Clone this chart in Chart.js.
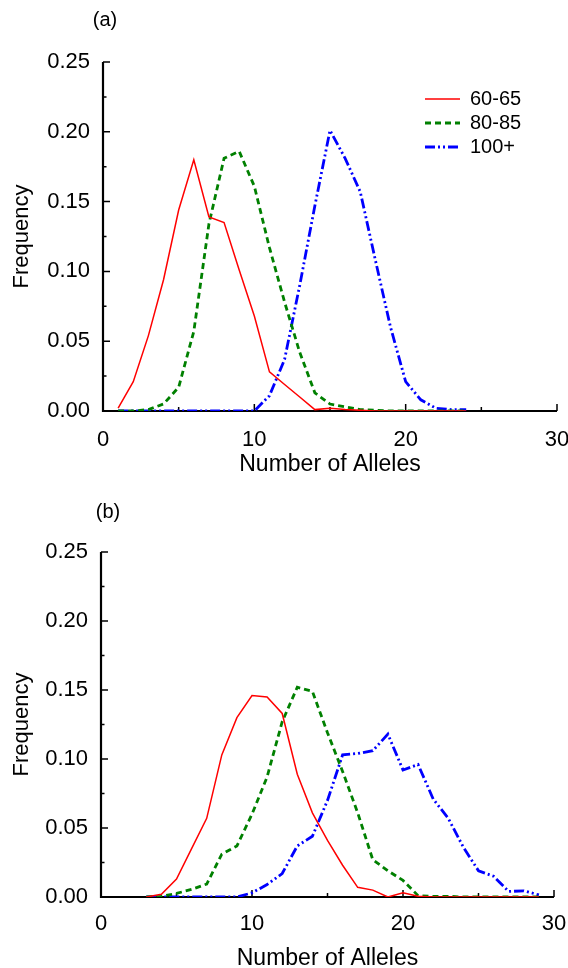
<!DOCTYPE html>
<html>
<head>
<meta charset="utf-8">
<script src="https://cdn.jsdelivr.net/npm/chart.js@4/dist/chart.umd.min.js"></script>
<style>
  body { margin: 0; background: #fff; }
  canvas { display: block; }
</style>
</head>
<body>
<canvas id="panelA" width="568" height="484"></canvas>
<canvas id="panelB" width="568" height="484"></canvas>
<script>
// ── DATA ─────────────────────────────────────────────
const seriesNames = ['60-65', '80-85', '100+'];
const yTicks = [0, 0.05, 0.10, 0.15, 0.20, 0.25];
const xTicks = [0, 10, 20, 30];

// panel (a)
const allelesA = [1,2,3,4,5,6,7,8,9,10,11,12,13,14,15,16,17,18,19,20,21,22,23,24];
const redA   = [0.002,0.021,0.054,0.094,0.144,0.180,0.139,0.135,0.101,0.068,0.028,0.019,0.010,0.001,0.002,0.001,0.0005,0,0,0,0,0,0,0];
const greenA = [0,0,0.001,0.005,0.017,0.057,0.134,0.181,0.186,0.161,0.117,0.078,0.042,0.013,0.005,0.003,0.001,0.0005,0,0,0,0,0,0];
const blueA  = [0,0,0,0,0,0,0,0,0,0,0.011,0.037,0.090,0.147,0.201,0.181,0.157,0.108,0.060,0.021,0.008,0.002,0.001,0.001];

// panel (b)
const allelesB = [3,4,5,6,7,8,9,10,11,12,13,14,15,16,17,18,19,20,21,22,23,24,25,26,27,28,29];
const redB   = [0,0.002,0.013,0.035,0.057,0.103,0.130,0.146,0.145,0.133,0.089,0.061,0.041,0.023,0.007,0.005,0,0.003,0.0005,0,0,0,0,0,0,0,0];
const greenB = [0,0.0005,0.0026,0.0055,0.0094,0.031,0.037,0.060,0.087,0.127,0.152,0.149,0.119,0.091,0.061,0.027,0.019,0.012,0.001,0.0005,0.0005,0,0,0,0,0,0];
const blueB  = [0,0,0,0,0,0,0,0.003,0.009,0.017,0.037,0.044,0.070,0.103,0.104,0.106,0.118,0.092,0.096,0.071,0.057,0.036,0.019,0.015,0.004,0.0045,0.0015];

// ── STYLE ────────────────────────────────────────────
const FONT = '"Liberation Sans", Arial, Helvetica, sans-serif';
const lineStyles = [
  { borderColor: '#ff0000', borderWidth: 1.5, borderDash: [] },
  { borderColor: '#008000', borderWidth: 2.8, borderDash: [6, 4] },
  { borderColor: '#0000ff', borderWidth: 2.8, borderDash: [10, 3, 2, 3, 2, 3] },
];

function toPoints(xs, ys) {
  return xs.map((x, i) => ({ x: x, y: ys[i] }));
}

// inward ticks + axis lines, drawn under the curves
const axisFrame = {
  id: 'axisFrame',
  beforeDatasetsDraw(chart) {
    const { ctx, chartArea: a, scales: { x, y } } = chart;
    ctx.save();
    ctx.strokeStyle = '#000';
    ctx.lineWidth = 1.5;
    ctx.beginPath();
    for (let i = 0; i <= 10; i++) {
      const py = y.getPixelForValue(i * 0.025);
      const len = i % 2 === 0 ? 7 : 3.5;
      ctx.moveTo(a.left, py); ctx.lineTo(a.left + len, py);
    }
    for (let v = 0; v <= 30; v += 5) {
      const px = x.getPixelForValue(v);
      const len = v % 10 === 0 ? 7 : 4;
      ctx.moveTo(px, a.bottom); ctx.lineTo(px, a.bottom - len);
    }
    ctx.stroke();
    ctx.lineWidth = 2.2;
    ctx.beginPath();
    ctx.moveTo(a.left, y.getPixelForValue(0.25));
    ctx.lineTo(a.left, a.bottom);
    ctx.lineTo(x.getPixelForValue(30), a.bottom);
    ctx.stroke();
    ctx.restore();
  }
};

// panel letter and in-plot legend
const annot = {
  id: 'annot',
  afterDraw(chart, args, opts) {
    const ctx = chart.ctx;
    ctx.save();
    ctx.fillStyle = '#000';
    ctx.font = '20px ' + FONT;
    ctx.textAlign = 'center';
    ctx.textBaseline = 'middle';
    ctx.fillText(opts.letter, opts.letterX, opts.letterY);
    if (opts.legend) {
      const L = opts.legend;
      chart.data.datasets.forEach((ds, i) => {
        const yy = L.y + i * L.gap;
        ctx.strokeStyle = ds.borderColor;
        ctx.lineWidth = ds.borderWidth;
        ctx.setLineDash(ds.borderDash);
        ctx.beginPath();
        ctx.moveTo(L.x, yy); ctx.lineTo(L.x + 35, yy);
        ctx.stroke();
        ctx.setLineDash([]);
        ctx.textAlign = 'left';
        ctx.fillText(ds.label, L.x + 45, yy);
      });
    }
    ctx.restore();
  }
};

function makePanel(id, xs, series, cfg) {
  return new Chart(document.getElementById(id), {
    type: 'line',
    data: {
      datasets: series.map((ys, i) => Object.assign({
        label: seriesNames[i],
        data: toPoints(xs, ys),
        pointRadius: 0,
        tension: 0,
        fill: false,
      }, lineStyles[i]))
    },
    options: {
      responsive: false,
      animation: false,
      layout: { padding: { top: cfg.top, right: cfg.right, bottom: cfg.bottom, left: 0 } },
      plugins: {
        legend: { display: false },
        tooltip: { enabled: false },
        annot: cfg.annot,
      },
      scales: {
        x: {
          type: 'linear', min: 0, max: 30,
          afterBuildTicks: s => { s.ticks = xTicks.map(v => ({ value: v })); },
          grid: { display: false }, border: { display: false },
          ticks: { color: '#000', font: { family: FONT, size: 22 }, padding: cfg.xTickPad, maxRotation: 0 },
          title: { display: true, text: 'Number of Alleles', color: '#000', font: { family: FONT, size: 23 }, padding: { top: 0, bottom: cfg.xTitlePad } },
          afterFit: s => { s.height = cfg.xHeight; s.paddingLeft = 0; s.paddingRight = 0; },
        },
        y: {
          min: 0, max: 0.25,
          afterBuildTicks: s => { s.ticks = yTicks.map(v => ({ value: v })); },
          grid: { display: false }, border: { display: false },
          ticks: { color: '#000', font: { family: FONT, size: 22 }, padding: 5, callback: v => v.toFixed(2) },
          title: { display: true, text: 'Frequency', color: '#000', font: { family: FONT, size: 22 }, padding: { top: 8.8, bottom: 0 } },
          afterFit: s => { s.width = cfg.yWidth; s.paddingTop = 0; s.paddingBottom = 0; },
        }
      }
    },
    plugins: [axisFrame, annot]
  });
}

makePanel('panelA', allelesA, [redA, greenA, blueA], {
  top: 62, right: 11, bottom: 3, yWidth: 103, xHeight: 70, xTickPad: 8, xTitlePad: 2.2,
  annot: { letter: '(a)', letterX: 105, letterY: 20, legend: { x: 425, y: 99, gap: 24 } }
});

makePanel('panelB', allelesB, [redB, greenB, blueB], {
  top: 68, right: 14, bottom: 0, yWidth: 101, xHeight: 71, xTickPad: 6, xTitlePad: -4,
  annot: { letter: '(b)', letterX: 108, letterY: 28.5 }
});
</script>
</body>
</html>
